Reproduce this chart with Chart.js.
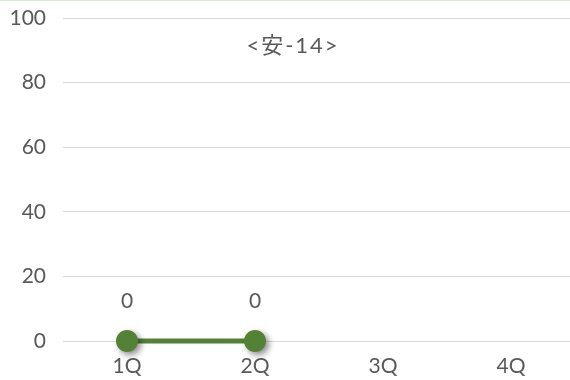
<!DOCTYPE html>
<html>
<head>
<meta charset="utf-8">
<script src="https://cdn.jsdelivr.net/npm/chart.js@4"></script>
<style>
  html, body { margin: 0; padding: 0; background: #fff; overflow: hidden; }
  body { border-top: 1px solid #d8ecd2; }
  canvas { display: block; }
</style>
</head>
<body>
<canvas id="quarter-line" width="586" height="379"></canvas>
<script>
const quarters = ['1Q', '2Q', '3Q', '4Q'];
const scores = [0, 0, null, null];
const yTicks = [0, 20, 40, 60, 80, 100];
const chartTitle = '<安-14>';

const FONT = "Lato, 'Noto Sans CJK JP', sans-serif";
const GREEN = '#538135';

// titulo dentro del area y etiquetas de valor
const extras = {
  id: 'extras',
  beforeDatasetDraw(chart, args) {
    if (args.index === 1) {
      const ctx = chart.ctx;
      ctx.save();
      ctx.shadowColor = 'rgba(0,0,0,0.45)';
      ctx.shadowBlur = 6;
      ctx.shadowOffsetX = 3;
      ctx.shadowOffsetY = 3;
    }
  },
  afterDatasetDraw(chart, args) {
    if (args.index === 1) chart.ctx.restore();
  },
  afterDraw(chart) {
    const ctx = chart.ctx;
    const x = chart.scales.x;
    const y = chart.scales.y;
    ctx.save();
    ctx.fillStyle = '#595959';
    ctx.font = '22px ' + FONT;
    ctx.letterSpacing = '2px';
    ctx.textAlign = 'center';
    ctx.textBaseline = 'middle';
    ctx.fillText(chartTitle, 293, 45);
    ctx.letterSpacing = '0px';
    ctx.font = '21px ' + FONT;
    scores.forEach((v, i) => {
      if (v === null) return;
      ctx.fillText(String(v), x.getPixelForValue(i), y.getPixelForValue(v) - 40);
    });
    ctx.restore();
  },
};

new Chart(document.getElementById('quarter-line'), {
  type: 'line',
  plugins: [extras],
  data: {
    labels: quarters,
    datasets: [
      {
        data: scores,
        borderColor: GREEN,
        borderWidth: 5,
        pointRadius: 0,
        clip: false,
        order: 1,
      },
      {
        data: scores,
        showLine: false,
        pointRadius: 11,
        pointBackgroundColor: GREEN,
        pointBorderWidth: 0,
        clip: false,
        order: 0,
      },
    ],
  },
  options: {
    responsive: false,
    animation: false,
    layout: { padding: { left: 0, right: 5, top: 17, bottom: 0 } },
    plugins: {
      legend: { display: false },
      tooltip: { enabled: false },
    },
    scales: {
      x: {
        offset: true,
        grid: { display: false, drawTicks: false },
        border: { display: false },
        ticks: {
          color: '#595959',
          font: { family: FONT, size: 21 },
          padding: 13,
        },
        afterFit: (scale) => {
          scale.height = 39;
          scale.paddingLeft = 0;
          scale.paddingRight = 0;
        },
      },
      y: {
        min: 0,
        max: 100,
        afterBuildTicks: (axis) => {
          axis.ticks = yTicks.map((v) => ({ value: v }));
        },
        grid: { color: '#d9d9d9', lineWidth: 1, drawTicks: false },
        border: { display: false },
        ticks: {
          color: '#595959',
          font: { family: FONT, size: 21 },
          padding: 17,
        },
        afterFit: (scale) => {
          scale.width = 63;
          scale.paddingTop = 0;
          scale.paddingBottom = 0;
        },
      },
    },
  },
});
</script>
</body>
</html>
